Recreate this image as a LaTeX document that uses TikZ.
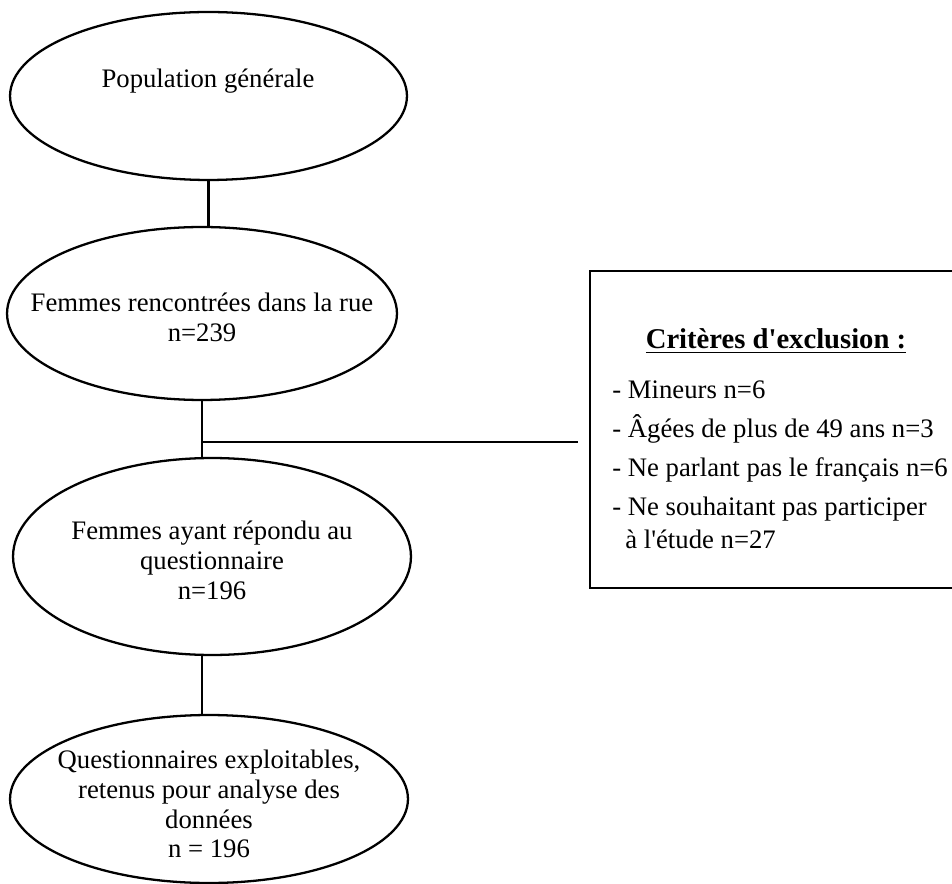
\documentclass[tikz,border=0pt]{standalone}
\usepackage{fontspec}
\setmainfont{Liberation Serif}[Ligatures=TeXOff]
\usetikzlibrary{shapes.geometric}
\begin{document}
\begin{tikzpicture}[x=0.02cm, y=-0.02cm]
    \tikzstyle{bulle} = [draw, ellipse, line width=1.3pt, inner sep=0pt]
    \tikzstyle{texte} = [align=center, inner sep=0pt, font=\fontsize{15.2}{17}\selectfont]
    \tikzstyle{item} = [anchor=base west, inner sep=0pt, font=\fontsize{15.2}{17}\selectfont]
    \tikzstyle{cadre} = [draw, line width=1.3pt, inner sep=0pt]
    \tikzstyle{trait} = [line width=1.2pt]

    \useasboundingbox (0, 0) rectangle (952, 884);

    % les quatre etapes
    \node[bulle, minimum width=7.94cm, minimum height=3.36cm] (pop) at (208.5, 96) {};
    \node[bulle, minimum width=7.8cm, minimum height=3.46cm] (femmes) at (202, 313.5) {};
    \node[bulle, minimum width=7.96cm, minimum height=3.94cm] (repondu) at (212, 556.5) {};
    \node[bulle, minimum width=7.96cm, minimum height=3.36cm] (analyse) at (209, 799) {};

    \node[texte] (tpop) at (208, 81) {Population générale};
    \node[texte] (tfemmes) at (202, 317) {Femmes rencontrées dans la rue\\n=239};
    \node[texte] (trepondu) at (212, 560) {Femmes ayant répondu au\\questionnaire\\n=196};
    \node[texte] (tanalyse) at (209, 804) {Questionnaires exploitables,\\retenus pour analyse des\\données\\n = 196};

    % criteres d'exclusion
    \node[cadre, minimum width=7.44cm, minimum height=6.34cm] (crit) at (776, 429.5) {};
    \node[texte, anchor=base, font=\fontsize{16.3}{19}\selectfont] (titre) at (776, 349) {\underline{\textbf{Critères d'exclusion :}}};
    \node[item] (mineurs) at (612, 399) {- Mineurs n=6};
    \node[item] (agees) at (612, 438) {- Âgées de plus de 49 ans n=3};
    \node[item] (langue) at (612, 477) {- Ne parlant pas le français n=6};
    \node[item] (refus) at (612, 515) {- Ne souhaitant pas participer};
    \node[item] (refussuite) at (625, 548) {à l'étude n=27};

    % liaisons
    \draw[trait] (pop.south) -- (pop.south |- femmes.north);
    \draw[trait] (femmes.south) -- (femmes.south |- repondu.north);
    \coordinate (embranch) at (202, 442);
    \coordinate (finbranche) at (578, 442);
    \draw[trait] (embranch) -- (finbranche);
    \draw[trait] (femmes.south |- repondu.south) -- (femmes.south |- analyse.north);
\end{tikzpicture}
\end{document}
